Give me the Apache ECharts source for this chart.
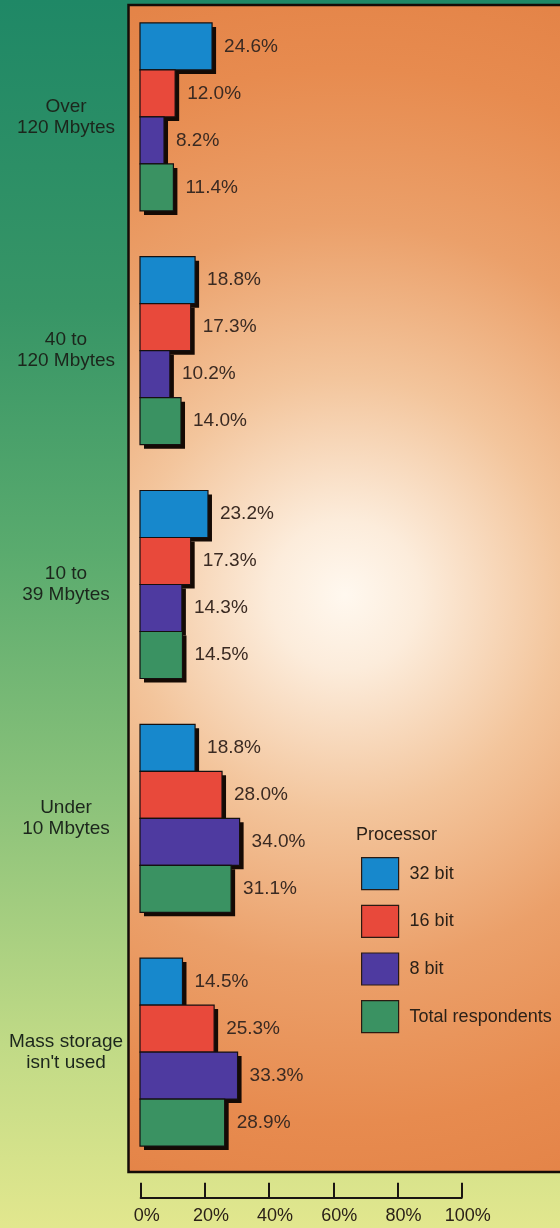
<!DOCTYPE html>
<html>
<head>
<meta charset="utf-8">
<script src="https://cdn.jsdelivr.net/npm/echarts@6/dist/echarts.min.js"></script>
<style>
html,body{margin:0;padding:0;background:#fff;}
#chart{width:560px;height:1228px;}
</style>
</head>
<body>
<div id="chart"></div>
<script>
// ---- data ----
var categories = ['Over\n120 Mbytes', '40 to\n120 Mbytes', '10 to\n39 Mbytes', 'Under\n10 Mbytes', "Mass storage\nisn't used"];
var seriesNames = ['32 bit', '16 bit', '8 bit', 'Total respondents'];
var bit32 = [24.6, 18.8, 23.2, 18.8, 14.5];
var bit16 = [12.0, 17.3, 17.3, 28.0, 25.3];
var bit8 = [8.2, 10.2, 14.3, 34.0, 33.3];
var totalResp = [11.4, 14.0, 14.5, 31.1, 28.9];
var axisMin = 0, axisMax = 100, axisStep = 20;
var legendTitle = 'Processor';

// ---- styles ----
var FONT = '"Liberation Sans", Arial, Helvetica, sans-serif';
var colors = ['#1788cc', '#e8493b', '#4e3aa0', '#3a9262'];
var seriesValues = [bit32, bit16, bit8, totalResp];
var BAR_H = 47;      // bar thickness in px
var SHADOW = 4;      // drop shadow offset in px
var LABEL_GAP = 12;  // gap between bar end and its value label

var chart = echarts.init(document.getElementById('chart'), null, {renderer: 'canvas'});

function makeRender(seriesIdx, nSeries) {
  return function (params, api) {
    var val = api.value(0);
    var cat = api.value(1);
    var p0 = api.coord([0, cat]);
    var p1 = api.coord([val, cat]);
    var y0 = p0[1] - (nSeries * BAR_H) / 2 + seriesIdx * BAR_H;
    var x0 = p0[0];
    var w = p1[0] - p0[0];
    return {
      type: 'group',
      children: [
        {
          type: 'rect',
          shape: {x: x0 + SHADOW, y: y0 + SHADOW, width: w, height: BAR_H},
          style: {fill: '#150a04'}
        },
        {
          type: 'rect',
          shape: {x: x0, y: y0, width: w, height: BAR_H},
          style: {fill: colors[seriesIdx], stroke: '#151010', lineWidth: 1.2}
        },
        {
          type: 'text',
          x: p1[0] + LABEL_GAP,
          y: y0 + BAR_H / 2,
          style: {
            text: val.toFixed(1) + '%',
            fontFamily: FONT,
            fontSize: 19,
            fill: '#3a2a22',
            align: 'left',
            verticalAlign: 'middle'
          }
        }
      ]
    };
  };
}

var series = seriesValues.map(function (vals, i) {
  return {
    name: seriesNames[i],
    type: 'custom',
    xAxisIndex: 0,
    yAxisIndex: 0,
    data: vals.map(function (v, j) { return [v, j]; }),
    encode: {x: 0, y: 1},
    renderItem: makeRender(i, seriesValues.length),
    itemStyle: {color: colors[i]},
    clip: false,
    z: 2,
    silent: true,
    animation: false
  };
});

var option = {
  animation: false,
  backgroundColor: {
    type: 'linear', x: 0, y: 0, x2: 0, y2: 1,
    colorStops: [
      {offset: 0, color: '#1f8866'},
      {offset: 0.25, color: '#379566'},
      {offset: 0.45, color: '#5aab6e'},
      {offset: 0.65, color: '#8bc27a'},
      {offset: 0.85, color: '#c0da86'},
      {offset: 1, color: '#e2e78e'}
    ]
  },
  title: {
    text: legendTitle,
    left: 356,
    top: 826,
    padding: 0,
    textStyle: {fontFamily: FONT, fontSize: 18, fontWeight: 'normal', color: '#2b2118'}
  },
  legend: {
    orient: 'vertical',
    left: 361,
    top: 857,
    padding: 0,
    itemWidth: 37,
    itemHeight: 32,
    itemGap: 14.5,
    icon: 'rect',
    data: seriesNames,
    selectedMode: false,
    itemStyle: {
      borderColor: '#2a1a12',
      borderWidth: 1.2
    },
    textStyle: {fontFamily: FONT, fontSize: 18, color: '#2b2118', padding: [0, 0, 0, 6]}
  },
  graphic: [{
    type: 'rect',
    z: 0,
    silent: true,
    shape: {x: 128.5, y: 5, width: 450, height: 1167},
    style: {
      fill: new echarts.graphic.RadialGradient(345, 595, 620, [
        {offset: 0, color: '#fff8ef'},
        {offset: 0.12, color: '#fcecdb'},
        {offset: 0.35, color: '#f3c59c'},
        {offset: 0.6, color: '#eba06a'},
        {offset: 0.85, color: '#e78b4f'},
        {offset: 1, color: '#e48448'}
      ], true),
      stroke: '#140c08',
      lineWidth: 2.5
    }
  }],
  grid: [
    {left: 140, width: 293, top: -9.5, height: 1178.5, containLabel: false},
    {left: 140.7, width: 321, top: 1150, height: 47.7, containLabel: false}
  ],
  xAxis: [
    {
      gridIndex: 0, type: 'value', min: axisMin, max: axisMax, interval: axisStep,
      show: false
    },
    {
      gridIndex: 1, type: 'value', min: axisMin, max: axisMax, interval: axisStep,
      position: 'bottom',
      axisLine: {show: true, lineStyle: {color: '#1a1512', width: 2}},
      axisTick: {show: true, inside: true, length: 15, lineStyle: {color: '#1a1512', width: 2}},
      splitLine: {show: false},
      axisLabel: {
        show: true, margin: 9, fontFamily: FONT, fontSize: 18, color: '#2b2118',
        padding: [0, 0, 0, 12],
        formatter: '{value}%'
      }
    }
  ],
  yAxis: [
    {
      gridIndex: 0, type: 'category', data: categories, inverse: true,
      axisLine: {show: false},
      axisTick: {show: false},
      splitLine: {show: false},
      axisLabel: {
        show: true, margin: 74, align: 'center',
        fontFamily: FONT, fontSize: 19, lineHeight: 21, color: '#1c261c'
      }
    },
    {gridIndex: 1, type: 'value', show: false, min: 0, max: 1}
  ],
  series: series
};

chart.setOption(option);
</script>
</body>
</html>
